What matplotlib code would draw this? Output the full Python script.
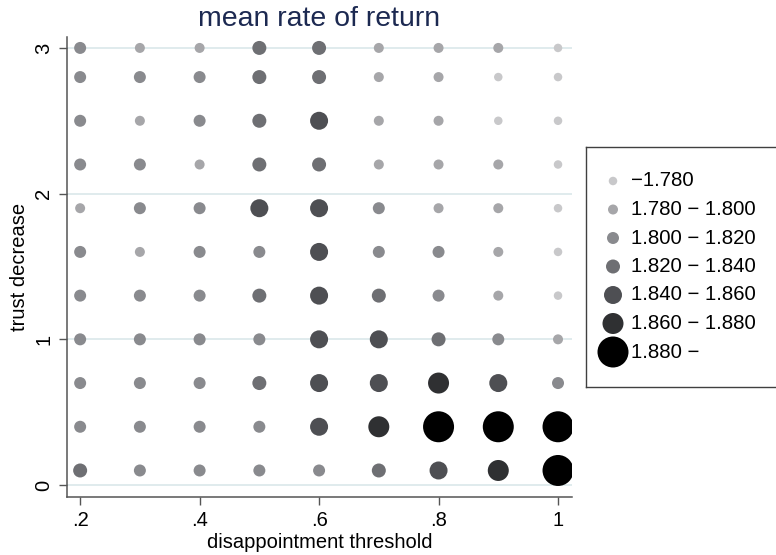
import matplotlib
matplotlib.use("Agg")
import matplotlib.pyplot as plt
import numpy as np

plt.rcParams['font.family'] = ['Liberation Sans', 'DejaVu Sans']

# ---- data ----
x_values = [0.2, 0.3, 0.4, 0.5, 0.6, 0.7, 0.8, 0.9, 1.0]
y_values = [0.1, 0.4, 0.7, 1.0, 1.3, 1.6, 1.9, 2.2, 2.5, 2.8, 3.0]
# class index (0..6) of mean rate of return, rows = y_values, cols = x_values
classes = [
    [3, 2, 2, 2, 2, 3, 4, 5, 6],  # 0.1
    [2, 2, 2, 2, 4, 5, 6, 6, 6],  # 0.4
    [2, 2, 2, 3, 4, 4, 5, 4, 2],  # 0.7
    [2, 2, 2, 2, 4, 4, 3, 2, 1],  # 1.0
    [2, 2, 2, 3, 4, 3, 2, 1, 0],  # 1.3
    [2, 1, 2, 2, 4, 2, 2, 1, 0],  # 1.6
    [1, 2, 2, 4, 4, 2, 1, 1, 0],  # 1.9
    [2, 2, 1, 3, 3, 1, 1, 1, 0],  # 2.2
    [2, 1, 2, 3, 4, 1, 1, 0, 0],  # 2.5
    [2, 2, 2, 3, 3, 1, 1, 0, 0],  # 2.8
    [2, 1, 1, 3, 3, 1, 1, 1, 0],  # 3.0
]
class_labels = ["\u22121.780", "1.780 \u2212 1.800", "1.800 \u2212 1.820",
                "1.820 \u2212 1.840", "1.840 \u2212 1.860", "1.860 \u2212 1.880",
                "1.880 \u2212"]
x_ticks = [0.2, 0.4, 0.6, 0.8, 1.0]
x_ticklabels = [".2", ".4", ".6", ".8", "1"]
y_ticks = [0, 1, 2, 3]
y_ticklabels = ["0", "1", "2", "3"]

# ---- styles ----
class_colors = ['#c8c8ca', '#a6a6a9', '#898a8e', '#6e6f73', '#4e4f53', '#2f3032', '#000000']
class_diam_px = [8.5, 10, 12, 14, 18, 21, 31]
W, H = 776, 555
DPI = 100
px2pt = 72.0 / DPI
class_sizes = [(d * px2pt) ** 2 for d in class_diam_px]

fig = plt.figure(figsize=(W / DPI, H / DPI), dpi=DPI)
ax = fig.add_axes([67 / W, (H - 497) / H, (572 - 67) / W, (497 - 37) / H])

X, Y = np.meshgrid(x_values, y_values)
C = np.array(classes)
for k in range(len(class_labels)):
    m = C == k
    ax.scatter(X[m], Y[m], s=class_sizes[k], c=class_colors[k], edgecolors='none', zorder=3)

ax.set_xlim(0.178, 1.0234)
ax.set_ylim(-0.082, 3.075)
for yv in y_ticks:
    ax.axhline(yv, color='#e0ebed', lw=1.4, zorder=1)

ax.set_xticks(x_ticks)
ax.set_xticklabels(x_ticklabels, fontsize=14.5)
ax.set_yticks(y_ticks)
ax.set_yticklabels(y_ticklabels, fontsize=14.5, rotation=90, va='center')
ax.tick_params(axis='both', length=6, width=1.0, color='#555555', pad=4)
for s in ['top', 'right']:
    ax.spines[s].set_visible(False)
for s in ['left', 'bottom']:
    ax.spines[s].set_color('#555555')
    ax.spines[s].set_linewidth(1.1)

ax.set_xlabel("disappointment threshold", fontsize=14.5, labelpad=2)
ax.set_ylabel("trust decrease", fontsize=14.5, labelpad=4)
ax.set_title("mean rate of return", fontsize=20.5, color='#1c2951', pad=8)

# ---- legend box ----
lx0, ly_top, ly_bot = 586, 147, 387
lax = fig.add_axes([lx0 / W, (H - ly_bot) / H, (W + 20 - lx0) / W, (ly_bot - ly_top) / H])
lax.set_xlim(lx0, W + 20)
lax.set_ylim(ly_bot, ly_top)
lax.set_xticks([])
lax.set_yticks([])
lax.patch.set_alpha(0)
for s in ['left', 'top', 'bottom']:
    lax.spines[s].set_color('#404040')
    lax.spines[s].set_linewidth(1.0)
lax.spines['right'].set_visible(False)
row0, rowstep = 181, 28.5
for k, lab in enumerate(class_labels):
    yy = row0 + rowstep * k
    lax.scatter([613], [yy], s=class_sizes[k], c=class_colors[k], edgecolors='none', clip_on=False)
    lax.text(631, yy, lab, fontsize=14.7, va='center', ha='left')

fig.savefig("out.png", dpi=DPI)
